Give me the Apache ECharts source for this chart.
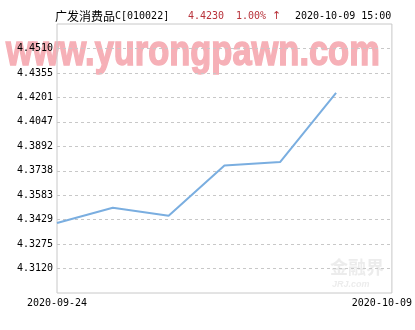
<!DOCTYPE html>
<html><head><meta charset="utf-8">
<script src="https://cdn.jsdelivr.net/npm/echarts@6/dist/echarts.min.js"></script>
<style>html,body{margin:0;padding:0;background:#fff}#c{width:415px;height:330px}</style>
</head><body><div id="c"></div>
<script>
const categories = ['2020-09-24','2020-09-25','2020-09-28','2020-09-29','2020-09-30','2020-10-09',''];
const navValues = [4.3408, 4.3505, 4.3454, 4.3772, 4.3794, 4.4230];
const yTicks = [4.3120, 4.3275, 4.3429, 4.3583, 4.3738, 4.3892, 4.4047, 4.4201, 4.4355, 4.4510];
const xEdgeLabels = ['2020-09-24', '2020-10-09'];
const fundName = '广发消费品';
const fundCode = 'C[010022]';
const lastValue = '4.4230';
const changePct = '1.00%';
const changeArrow = '↑';
const stamp = '2020-10-09 15:00';

const mono = '"DejaVu Sans Mono", "Liberation Mono", monospace';
const chart = echarts.init(document.getElementById('c'), null, {renderer: 'canvas'});
chart.setOption({
  backgroundColor: '#fff',
  animation: false,
  grid: {left: 57, right: 23, top: 24, bottom: 37, show: true, borderColor: '#c8c8c8', borderWidth: 1, backgroundColor: 'transparent'},
  xAxis: {
    type: 'category', data: categories, boundaryGap: false,
    axisLine: {show: false}, axisTick: {show: false}, splitLine: {show: false},
    axisLabel: {
      interval: function (i) { return i === 0 || i === categories.length - 1; },
      margin: 5, fontFamily: mono, fontSize: 10, color: '#000',
      formatter: function (v, i) {
        if (i === 0) return xEdgeLabels[0];
        return '{r|' + xEdgeLabels[1] + '}';
      },
      rich: {r: {fontFamily: mono, fontSize: 10, color: '#000', padding: [0, 20, 0, 0]}}
    }
  },
  yAxis: {
    type: 'value', min: 4.2966, max: 4.4665,
    axisLine: {show: false},
    axisTick: {show: false, customValues: yTicks},
    splitLine: {show: true, lineStyle: {color: '#c8c8c8', type: [3, 3], width: 1}},
    axisLabel: {customValues: yTicks, margin: 4, fontFamily: mono, fontSize: 10, color: '#000',
      formatter: function (v) { return v.toFixed(4); }}
  },
  series: [{
    type: 'line', data: navValues, symbol: 'none', smooth: false,
    lineStyle: {color: '#7aaee0', width: 2}
  }],
  graphic: [
    {type: 'text', x: 6, y: 53, scaleX: 0.82, z: -10, silent: true,
     style: {text: 'www.yurongpawn.com', verticalAlign: 'middle', fontFamily: '"Liberation Sans", Arial, sans-serif', fontWeight: 'bold', fontSize: 42,
       fill: '#f6b0b7', stroke: '#f6b0b7', lineWidth: 1.5, lineJoin: 'round'}},
    {type: 'text', x: 330, y: 258, z: -10, silent: true,
     style: {text: '金融界', fontFamily: '"Noto Sans CJK SC"', fontWeight: 'bold', fontSize: 18, fill: 'rgba(200,200,200,0.35)'}},
    {type: 'text', x: 332, y: 280, z: -10, silent: true,
     style: {text: 'JRJ.com', fontFamily: '"Liberation Sans"', fontStyle: 'italic', fontWeight: 'bold', fontSize: 9, fill: 'rgba(200,200,200,0.35)'}},
    {type: 'text', x: 55, y: 16, style: {text: '{a|' + fundName + '}{b|' + fundCode + '}', verticalAlign: 'middle',
      rich: {a: {fontFamily: '"Noto Sans CJK SC"', fontSize: 12, fill: '#000'}, b: {fontFamily: mono, fontSize: 10, fill: '#000'}}}},
    {type: 'text', x: 188, y: 16, style: {text: lastValue, verticalAlign: 'middle', fontFamily: mono, fontSize: 10, fill: '#b8323a'}},
    {type: 'text', x: 236, y: 16, style: {text: '{p|' + changePct + ' }{q|' + changeArrow + '}', verticalAlign: 'middle',
      rich: {p: {fontFamily: mono, fontSize: 10, fill: '#b8323a'}, q: {fontFamily: '"DejaVu Sans"', fontSize: 11, fill: '#b8323a'}}}},
    {type: 'text', x: 295, y: 16, style: {text: stamp, verticalAlign: 'middle', fontFamily: mono, fontSize: 10, fill: '#000'}}
  ]
});
</script></body></html>
